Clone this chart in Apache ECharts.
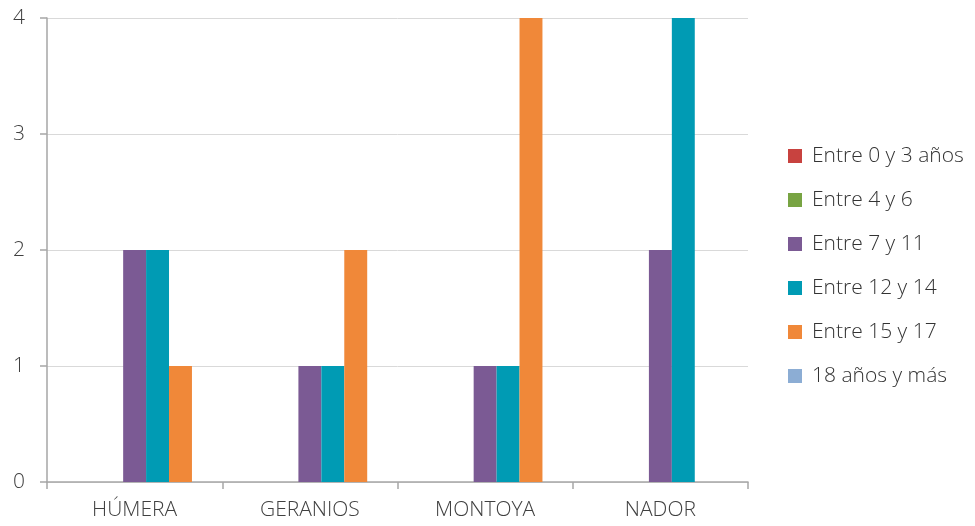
<!DOCTYPE html>
<html>
<head>
<meta charset="utf-8">
<script src="https://cdn.jsdelivr.net/npm/echarts@6/dist/echarts.min.js"></script>
<style>
  html, body { margin: 0; padding: 0; background: #ffffff; }
  #chart { width: 975px; height: 526px; }
</style>
</head>
<body>
<div id="chart"></div>
<script>
// Barrios and counts per age group
const categories = ['HÚMERA', 'GERANIOS', 'MONTOYA', 'NADOR'];
const ageGroups = ['Entre 0 y 3 años', 'Entre 4 y 6', 'Entre 7 y 11', 'Entre 12 y 14', 'Entre 15 y 17', '18 años y más'];
const age0to3 = [0, 0, 0, 0];
const age4to6 = [0, 0, 0, 0];
const age7to11 = [2, 1, 1, 2];
const age12to14 = [2, 1, 1, 4];
const age15to17 = [1, 2, 4, 0];
const age18plus = [0, 0, 0, 0];
// Empty leading slot in each group (no legend entry)
const blankSlot = [null, null, null, null];
const yTicks = { min: 0, max: 4, interval: 1 };

const colors = ['#c8423f', '#78a443', '#7b5a94', '#009bb4', '#f08839', '#8cadd4'];
const groupValues = [age0to3, age4to6, age7to11, age12to14, age15to17, age18plus];
const font = "'Open Sans', 'Noto Sans', sans-serif";

const series = [{
  name: '',
  type: 'bar',
  data: blankSlot,
  barGap: 0,
  barCategoryGap: '8.4%',
  silent: true
}].concat(groupValues.map((vals, i) => ({
  name: ageGroups[i],
  type: 'bar',
  data: vals,
  barGap: 0,
  barCategoryGap: '8.4%',
  itemStyle: { color: colors[i] }
})));

const chart = echarts.init(document.getElementById('chart'), null, { renderer: 'canvas' });
chart.setOption({
  animation: false,
  textStyle: { fontFamily: font },
  grid: { left: 47, right: 227, top: 18, bottom: 44, containLabel: false },
  legend: {
    data: ageGroups.map((n, i) => ({ name: n, itemStyle: { color: colors[i] } })),
    orient: 'vertical',
    left: 783,
    top: 140,
    itemWidth: 14,
    itemHeight: 14,
    itemGap: 22,
    icon: 'rect',
    textStyle: { fontSize: 21, lineHeight: 22, color: '#333333', fontFamily: font, fontWeight: 300, padding: [0, 0, 0, 5] },
    selectedMode: false
  },
  xAxis: {
    type: 'category',
    data: categories,
    boundaryGap: true,
    axisLine: { show: true, lineStyle: { color: '#a6a6a6', width: 1.5 } },
    axisTick: { show: true, length: 7, alignWithLabel: false, lineStyle: { color: '#a6a6a6', width: 1.5 } },
    axisLabel: { fontSize: 21, color: '#404040', margin: 18, fontFamily: font, fontWeight: 300 },
    splitLine: { show: false }
  },
  yAxis: {
    type: 'value',
    min: yTicks.min,
    max: yTicks.max,
    interval: yTicks.interval,
    axisLine: { show: true, lineStyle: { color: '#a6a6a6', width: 1.5 } },
    axisTick: { show: true, length: 7, lineStyle: { color: '#a6a6a6', width: 1.5 } },
    axisLabel: { fontSize: 21, color: '#404040', margin: 22, fontFamily: font, fontWeight: 300 },
    splitLine: { show: true, lineStyle: { color: '#d9d9d9', width: 1 } }
  },
  series: series
});
</script>
</body>
</html>
